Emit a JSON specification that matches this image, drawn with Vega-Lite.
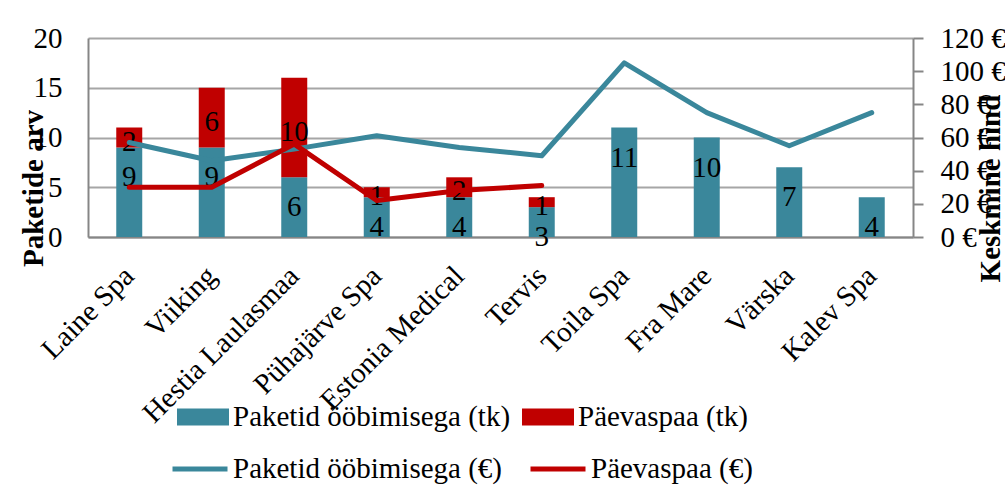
{
  "$schema": "https://vega.github.io/schema/vega-lite/v6.json",
  "width": 825,
  "height": 199,
  "autosize": "none",
  "padding": {"left": 88, "top": 38, "right": 92, "bottom": 260},
  "background": "white",
  "config": {
    "font": "Liberation Serif",
    "view": {"stroke": null},
    "axis": {"labelColor": "black", "titleColor": "black", "labelFont": "Liberation Serif", "titleFont": "Liberation Serif"},
    "legend": {"labelColor": "black", "labelFont": "Liberation Serif"}
  },
  "datasets": {
    "counts": [
      {"spa": "Laine Spa", "series": "Paketid ööbimisega (tk)", "ord": 1, "n": 9},
      {"spa": "Laine Spa", "series": "Päevaspaa (tk)", "ord": 2, "n": 2},
      {"spa": "Viiking", "series": "Paketid ööbimisega (tk)", "ord": 1, "n": 9},
      {"spa": "Viiking", "series": "Päevaspaa (tk)", "ord": 2, "n": 6},
      {"spa": "Hestia Laulasmaa", "series": "Paketid ööbimisega (tk)", "ord": 1, "n": 6},
      {"spa": "Hestia Laulasmaa", "series": "Päevaspaa (tk)", "ord": 2, "n": 10},
      {"spa": "Pühajärve Spa", "series": "Paketid ööbimisega (tk)", "ord": 1, "n": 4},
      {"spa": "Pühajärve Spa", "series": "Päevaspaa (tk)", "ord": 2, "n": 1},
      {"spa": "Estonia Medical", "series": "Paketid ööbimisega (tk)", "ord": 1, "n": 4},
      {"spa": "Estonia Medical", "series": "Päevaspaa (tk)", "ord": 2, "n": 2},
      {"spa": "Tervis", "series": "Paketid ööbimisega (tk)", "ord": 1, "n": 3},
      {"spa": "Tervis", "series": "Päevaspaa (tk)", "ord": 2, "n": 1},
      {"spa": "Toila Spa", "series": "Paketid ööbimisega (tk)", "ord": 1, "n": 11},
      {"spa": "Fra Mare", "series": "Paketid ööbimisega (tk)", "ord": 1, "n": 10},
      {"spa": "Värska", "series": "Paketid ööbimisega (tk)", "ord": 1, "n": 7},
      {"spa": "Kalev Spa", "series": "Paketid ööbimisega (tk)", "ord": 1, "n": 4}
    ],
    "prices": [
      {"spa": "Laine Spa", "series": "Paketid ööbimisega (€)", "price": 57},
      {"spa": "Viiking", "series": "Paketid ööbimisega (€)", "price": 46},
      {"spa": "Hestia Laulasmaa", "series": "Paketid ööbimisega (€)", "price": 53},
      {"spa": "Pühajärve Spa", "series": "Paketid ööbimisega (€)", "price": 61},
      {"spa": "Estonia Medical", "series": "Paketid ööbimisega (€)", "price": 54},
      {"spa": "Tervis", "series": "Paketid ööbimisega (€)", "price": 49},
      {"spa": "Toila Spa", "series": "Paketid ööbimisega (€)", "price": 105},
      {"spa": "Fra Mare", "series": "Paketid ööbimisega (€)", "price": 75},
      {"spa": "Värska", "series": "Paketid ööbimisega (€)", "price": 55},
      {"spa": "Kalev Spa", "series": "Paketid ööbimisega (€)", "price": 75},
      {"spa": "Laine Spa", "series": "Päevaspaa (€)", "price": 30},
      {"spa": "Viiking", "series": "Päevaspaa (€)", "price": 30},
      {"spa": "Hestia Laulasmaa", "series": "Päevaspaa (€)", "price": 56},
      {"spa": "Pühajärve Spa", "series": "Päevaspaa (€)", "price": 22},
      {"spa": "Estonia Medical", "series": "Päevaspaa (€)", "price": 28},
      {"spa": "Tervis", "series": "Päevaspaa (€)", "price": 31}
    ]
  },
  "layer": [
    {
      "data": {"name": "counts"},
      "transform": [
        {"stack": "n", "groupby": ["spa"], "sort": [{"field": "ord"}], "as": ["n0", "n1"]},
        {"calculate": "(datum.n0 + datum.n1) / 2", "as": "mid"}
      ],
      "encoding": {
        "x": {
          "field": "spa", "type": "nominal",
          "scale": {"domain": ["Laine Spa", "Viiking", "Hestia Laulasmaa", "Pühajärve Spa", "Estonia Medical", "Tervis", "Toila Spa", "Fra Mare", "Värska", "Kalev Spa"], "paddingInner": 0.685, "paddingOuter": 0.3425},
          "axis": {"title": null, "labelAngle": -45, "labelAlign": "right", "labelBaseline": "middle", "labelPadding": 34, "labelFontSize": 29, "labelLimit": 500, "ticks": false, "tickSize": 0, "domainColor": "#868686", "domainWidth": 2, "grid": false, "labelOverlap": false}
        }
      },
      "layer": [
        {
          "mark": {"type": "bar"},
          "encoding": {
            "y": {
              "field": "n0", "type": "quantitative", "title": "Paketide arv",
              "scale": {"domain": [0, 20]},
              "axis": {"orient": "left", "values": [0, 5, 10, 15, 20], "grid": true, "gridColor": "#A6A6A6", "gridWidth": 2, "ticks": false, "tickSize": 0, "labelPadding": 26, "labelFontSize": 29, "domainColor": "#868686", "domainWidth": 2, "titleFontSize": 29, "titleFontWeight": "bold", "titleAngle": 270, "titleX": -46, "titleY": 150, "titleBaseline": "alphabetic", "titleAlign": "center"}
            },
            "y2": {"field": "n1"},
            "color": {
              "field": "series", "type": "nominal",
              "scale": {"domain": ["Paketid ööbimisega (tk)", "Päevaspaa (tk)"], "range": ["#3A879B", "#C00000"]},
              "legend": {"orient": "none", "legendX": 89, "legendY": 353, "direction": "horizontal", "title": null, "symbolType": "M-1,-0.33H1V0.33H-1Z", "symbolSize": 2704, "symbolStrokeWidth": 0, "symbolOpacity": 1, "labelFontSize": 29, "labelOffset": 4, "columnPadding": 11, "labelLimit": 500}
            }
          }
        },
        {
          "transform": [{"filter": "datum.ord == 1"}],
          "mark": {"type": "text", "dy": 30, "fontSize": 29, "color": "black", "baseline": "middle"},
          "encoding": {
            "y": {"field": "n1", "type": "quantitative", "title": "Paketide arv"},
            "text": {"field": "n", "type": "quantitative"}
          }
        },
        {
          "transform": [{"filter": "datum.ord == 2"}],
          "mark": {"type": "text", "dy": 4, "fontSize": 29, "color": "black", "baseline": "middle"},
          "encoding": {
            "y": {"field": "mid", "type": "quantitative", "title": "Paketide arv"},
            "text": {"field": "n", "type": "quantitative"}
          }
        }
      ]
    },
    {
      "data": {"name": "prices"},
      "mark": {"type": "line", "strokeWidth": 5, "strokeJoin": "round", "strokeCap": "round"},
      "encoding": {
        "x": {"field": "spa", "type": "nominal"},
        "y": {
          "field": "price", "type": "quantitative", "title": "Keskmine hind",
          "scale": {"domain": [0, 120]},
          "axis": {"orient": "right", "values": [0, 20, 40, 60, 80, 100, 120], "grid": false, "ticks": true, "tickSize": 10, "tickWidth": 2, "tickColor": "#868686", "domainColor": "#868686", "domainWidth": 2, "labelExpr": "datum.value + ' €'", "labelPadding": 17, "labelFontSize": 29, "titleFontSize": 29, "titleFontWeight": "bold", "titleAngle": 270, "titleX": 86, "titleY": 150, "titleBaseline": "alphabetic", "titleAlign": "center"}
        },
        "stroke": {
          "field": "series", "type": "nominal",
          "scale": {"domain": ["Paketid ööbimisega (€)", "Päevaspaa (€)"], "range": ["#3A879B", "#C00000"]},
          "legend": {"orient": "none", "legendX": 82, "legendY": 401, "direction": "horizontal", "title": null, "symbolType": "stroke", "symbolSize": 3025, "symbolStrokeWidth": 5, "labelFontSize": 29, "labelOffset": 3, "columnPadding": 17, "labelLimit": 500}
        },
        "order": {"value": null}
      }
    }
  ],
  "resolve": {"scale": {"y": "independent", "color": "independent", "stroke": "independent"}}
}
